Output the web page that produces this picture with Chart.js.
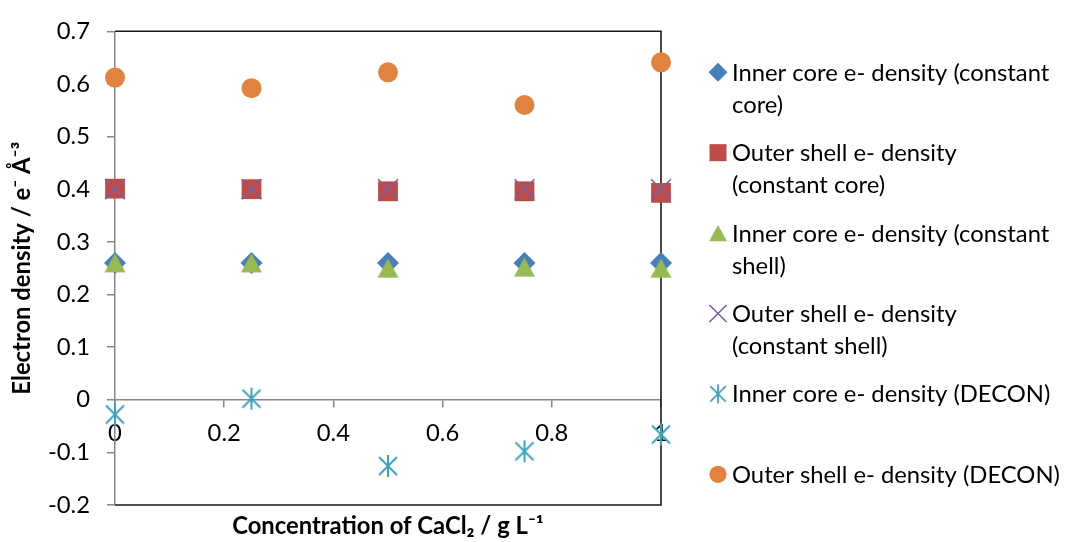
<!DOCTYPE html>
<html>
<head>
<meta charset="utf-8">
<script src="https://cdn.jsdelivr.net/npm/chart.js@4/dist/chart.umd.min.js"></script>
<style>
  html, body { margin: 0; padding: 0; background: #ffffff; }
  #wrap { width: 1067px; height: 542px; position: relative; }
</style>
</head>
<body>
<div id="wrap"><canvas id="c" width="1067" height="542"></canvas></div>
<script>
// ---------------- data ----------------
const concentration        = [0, 0.25, 0.5, 0.75, 1];
const innerCoreConstCore   = [0.26, 0.26, 0.26, 0.26, 0.26];
const outerShellConstCore  = [0.401, 0.40, 0.396, 0.396, 0.393];
const innerCoreConstShell  = [0.26, 0.26, 0.25, 0.252, 0.25];
const outerShellConstShell = [0.40, 0.40, 0.40, 0.40, 0.40];
const innerCoreDecon       = [-0.028, 0.002, -0.126, -0.098, -0.066];
const outerShellDecon      = [0.612, 0.592, 0.622, 0.560, 0.641];

const seriesNames = [
  ["Inner core e- density (constant", "core)"],
  ["Outer shell e- density", "(constant core)"],
  ["Inner core e- density (constant", "shell)"],
  ["Outer shell e- density", "(constant shell)"],
  ["Inner core e- density (DECON)"],
  ["Outer shell e- density (DECON)"]
];
const xTickValues = [0, 0.2, 0.4, 0.6, 0.8, 1];
const yTickValues = [-0.2, -0.1, 0, 0.1, 0.2, 0.3, 0.4, 0.5, 0.6, 0.7];
const xTitle = "Concentration of CaCl\u2082 / g L\u207B\u00B9";
const yTitle = "Electron density / e\u207B \u00C5\u207B\u00B3";

// ---------------- styling helpers ----------------
const FAMILY = 'Lato, "Open Sans", sans-serif';
const mctx = document.createElement('canvas').getContext('2d');
mctx.font = '26px ' + FAMILY;
const FS = Math.floor(Math.min(
  26 * 331 / mctx.measureText(seriesNames[0][0]).width,
  26 * 329 / mctx.measureText(seriesNames[5][0]).width) * 10) / 10;

function makeTriangle(color, w, h) {
  const c = document.createElement('canvas');
  c.width = Math.ceil(w) + 2; c.height = Math.ceil(h) + 2;
  const g = c.getContext('2d');
  g.fillStyle = color;
  g.beginPath();
  g.moveTo(c.width / 2, 1);
  g.lineTo(c.width / 2 + w / 2, 1 + h);
  g.lineTo(c.width / 2 - w / 2, 1 + h);
  g.closePath();
  g.fill();
  return c;
}
function makeStar(color, hx, hy, lw) {
  const c = document.createElement('canvas');
  c.width = Math.ceil(hx * 2) + 4; c.height = Math.ceil(hy * 2) + 4;
  const g = c.getContext('2d');
  const cx = c.width / 2, cy = c.height / 2;
  g.strokeStyle = color; g.lineWidth = lw; g.lineCap = 'butt';
  g.beginPath();
  g.moveTo(cx, cy - hy); g.lineTo(cx, cy + hy);
  g.moveTo(cx - hx, cy - hx); g.lineTo(cx + hx, cy + hx);
  g.moveTo(cx + hx, cy - hx); g.lineTo(cx - hx, cy + hx);
  g.stroke();
  return c;
}

const COL = {
  blue: '#4A7EBB', red: '#BE4B48', green: '#98B954',
  purple: '#7D5FA0', teal: '#3FA2BB', orange: '#E0833E'
};
const triImg = makeTriangle(COL.green, 21, 19);
const starImg = makeStar(COL.teal, 9, 11, 2);

function pts(ys) { return concentration.map((x, i) => ({ x: x, y: ys[i] })); }

const datasets = [
  { label: seriesNames[0].join(' '), data: pts(innerCoreConstCore), pointStyle: 'rectRot', pointRadius: 11,
    backgroundColor: COL.blue, borderColor: COL.blue, borderWidth: 0, order: 6 },
  { label: seriesNames[1].join(' '), data: pts(outerShellConstCore), pointStyle: 'rect', pointRadius: 14,
    backgroundColor: COL.red, borderColor: COL.red, borderWidth: 0, order: 5 },
  { label: seriesNames[2].join(' '), data: pts(innerCoreConstShell), pointStyle: triImg, pointRadius: 11,
    backgroundColor: COL.green, borderColor: COL.green, borderWidth: 0, order: 4 },
  { label: seriesNames[3].join(' '), data: pts(outerShellConstShell), pointStyle: 'crossRot', pointRadius: 14,
    backgroundColor: COL.purple, borderColor: COL.purple, borderWidth: 1.6, order: 3 },
  { label: seriesNames[4].join(' '), data: pts(innerCoreDecon), pointStyle: starImg, pointRadius: 11,
    backgroundColor: COL.teal, borderColor: COL.teal, borderWidth: 0, order: 2 },
  { label: seriesNames[5].join(' '), data: pts(outerShellDecon), pointStyle: 'circle', pointRadius: 10,
    backgroundColor: COL.orange, borderColor: COL.orange, borderWidth: 0, order: 1 }
].map(d => Object.assign(d, { showLine: false, clip: false, pointHoverRadius: d.pointRadius }));

// frame: top, right, bottom black lines
const framePlugin = {
  id: 'frame',
  beforeDatasetsDraw(chart) {
    const { ctx, chartArea: a } = chart;
    ctx.save();
    ctx.strokeStyle = '#1a1a1a';
    ctx.lineWidth = 1.6;
    ctx.beginPath();
    ctx.moveTo(a.left, a.top); ctx.lineTo(a.right, a.top);
    ctx.lineTo(a.right, a.bottom); ctx.lineTo(a.left, a.bottom);
    ctx.stroke();
    ctx.restore();
  }
};

// side legend with wrapped labels
const legendPlugin = {
  id: 'sideLegend',
  afterDraw(chart) {
    const { ctx, chartArea: a } = chart;
    const mx = a.right + 57, tx = a.right + 71;
    const y0 = a.top + 41, step = 80.4, lh = 32, scale = 0.86;
    ctx.save();
    ctx.font = FS + 'px ' + FAMILY;
    ctx.fillStyle = '#000';
    ctx.textAlign = 'left';
    ctx.textBaseline = 'alphabetic';
    chart.data.datasets.forEach((ds, i) => {
      const y = y0 + i * step;
      const st = ds.pointStyle;
      if (st instanceof HTMLCanvasElement) {
        const w = st.width * scale, h = st.height * scale;
        ctx.drawImage(st, mx - w / 2, y - h / 2, w, h);
      } else {
        ctx.save();
        ctx.fillStyle = ds.backgroundColor;
        ctx.strokeStyle = ds.borderColor;
        ctx.lineWidth = ds.borderWidth;
        Chart.helpers.drawPoint(ctx, { pointStyle: st, rotation: 0, radius: ds.pointRadius * scale, borderWidth: ds.borderWidth }, mx, y);
        ctx.restore();
      }
      seriesNames[i].forEach((line, k) => {
        ctx.fillText(line, tx, y + k * lh + 0.36 * FS);
      });
    });
    ctx.restore();
  }
};

const tickFont = { family: FAMILY, size: FS };
const titleFont = { family: FAMILY, size: FS, weight: 'bold', lineHeight: 1.2 };

new Chart(document.getElementById('c'), {
  type: 'scatter',
  data: { datasets: datasets },
  options: {
    responsive: false,
    animation: false,
    events: [],
    layout: { padding: { left: 0, top: 28, right: 406, bottom: 0 } },
    plugins: { legend: { display: false }, tooltip: { enabled: false } },
    scales: {
      x: {
        type: 'linear', position: { y: 0 }, min: 0, max: 1,
        afterBuildTicks: s => { s.ticks = xTickValues.map(v => ({ value: v })); },
        grid: { drawOnChartArea: false, color: '#868686', tickLength: 7, lineWidth: 1.5 },
        border: { color: '#868686', width: 1.5 },
        ticks: { font: tickFont, color: '#000', padding: 12, maxRotation: 0, callback: v => String(v) }
      },
      x2: {
        type: 'linear', position: 'bottom', min: 0, max: 1,
        grid: { display: false }, border: { display: false },
        ticks: { display: false },
        title: { display: true, text: xTitle, font: titleFont, color: '#000', padding: { top: 0, bottom: 1 } },
        afterFit: s => { s.height = 37; }
      },
      y: {
        type: 'linear', position: 'left', min: -0.2, max: 0.7,
        afterBuildTicks: s => { s.ticks = yTickValues.map(v => ({ value: v })); },
        grid: { drawOnChartArea: false, color: '#868686', tickLength: 8, lineWidth: 1.5 },
        border: { color: '#868686', width: 1.5 },
        ticks: { font: tickFont, color: '#000', padding: 17, callback: v => String(v) },
        title: { display: true, text: yTitle, font: titleFont, color: '#000',
                 padding: { top: Math.max(0, 22 - FS * 0.6), bottom: 0 } },
        afterFit: s => { s.width = 115; }
      }
    }
  },
  plugins: [framePlugin, legendPlugin]
});
</script>
</body>
</html>
